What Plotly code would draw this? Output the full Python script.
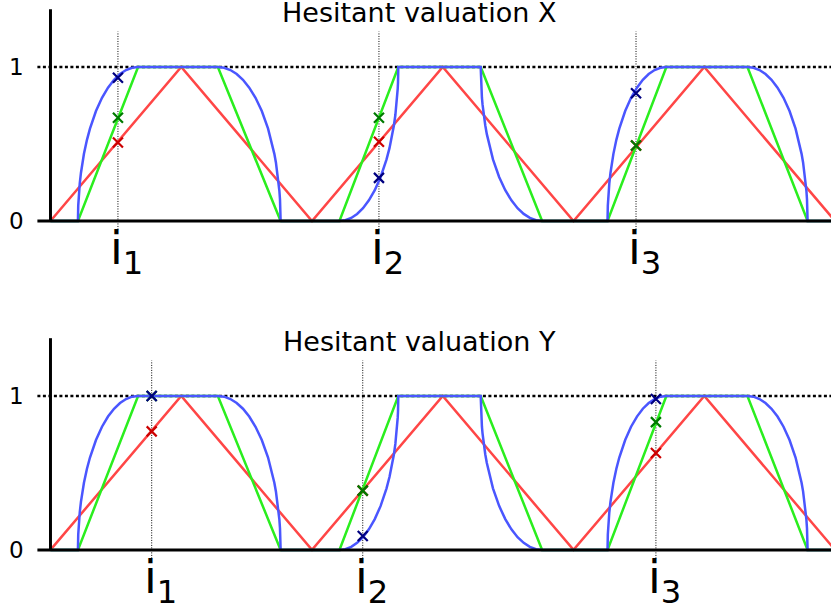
import plotly.graph_objects as go

# ---------------- data ----------------
# red triangular membership function
red_x = [0, 1, 2, 3, 4, 5, 6]
red_y = [0, 1, 0, 1, 0, 1, 0]

# green trapezoidal membership function
green_x = [0, 0.21, 0.67, 1.28, 1.76, 2.21, 2.66, 3.29, 3.76, 4.26, 4.71, 5.33, 5.79, 6]
green_y = [0, 0, 1, 1, 0, 0, 1, 1, 0, 0, 1, 1, 0, 0]

# blue curved membership function (three bumps)
blue_x1 = [0, 0.21, 0.2123, 0.2146, 0.2192, 0.2238, 0.233, 0.2445, 0.256, 0.279, 0.302, 0.348, 0.394,
           0.44, 0.486, 0.532, 0.578, 0.624, 0.67,
           1.28, 1.328, 1.376, 1.424, 1.472, 1.52, 1.568, 1.616, 1.664, 1.688, 1.712, 1.724, 1.736,
           1.7456, 1.7504, 1.7552, 1.7576, 1.76]
blue_y1 = [0, 0, 0.1, 0.141, 0.198, 0.243, 0.312, 0.38, 0.436, 0.527, 0.6, 0.714, 0.8,
           0.866, 0.917, 0.954, 0.98, 0.995, 1,
           1, 0.995, 0.98, 0.954, 0.917, 0.866, 0.8, 0.714, 0.6, 0.527, 0.436, 0.38, 0.312,
           0.243, 0.198, 0.141, 0.1, 0]
blue_x2 = [1.76, 2.21, 2.255, 2.30, 2.345, 2.39, 2.435, 2.48, 2.525, 2.57, 2.5925, 2.615, 2.6263,
           2.6375, 2.6465, 2.651, 2.6555, 2.6578, 2.66,
           3.29, 3.2924, 3.2947, 3.2994, 3.3041, 3.3135, 3.3253, 3.337, 3.3605, 3.384, 3.431, 3.478,
           3.525, 3.572, 3.619, 3.666, 3.713, 3.76]
blue_y2 = [0, 0, 0.005, 0.02, 0.046, 0.083, 0.134, 0.2, 0.286, 0.4, 0.473, 0.564, 0.62,
           0.688, 0.757, 0.802, 0.859, 0.9, 1,
           1, 0.9, 0.859, 0.802, 0.757, 0.688, 0.62, 0.564, 0.473, 0.4, 0.286, 0.2,
           0.134, 0.083, 0.046, 0.02, 0.005, 0]
blue_x3 = [3.76, 4.26, 4.2623, 4.2645, 4.269, 4.2735, 4.2825, 4.2938, 4.305, 4.3275, 4.35, 4.395, 4.44,
           4.485, 4.53, 4.575, 4.62, 4.665, 4.71,
           5.33, 5.376, 5.422, 5.468, 5.514, 5.56, 5.606, 5.652, 5.698, 5.721, 5.744, 5.7555, 5.767,
           5.7762, 5.7808, 5.7854, 5.7877, 5.79, 6]
blue_y3 = [0, 0, 0.1, 0.141, 0.198, 0.243, 0.312, 0.38, 0.436, 0.527, 0.6, 0.714, 0.8,
           0.866, 0.917, 0.954, 0.98, 0.995, 1,
           1, 0.995, 0.98, 0.954, 0.917, 0.866, 0.8, 0.714, 0.6, 0.527, 0.436, 0.38, 0.312,
           0.243, 0.198, 0.141, 0.1, 0, 0]

# panel titles
titles = ["Hesitant valuation X", "Hesitant valuation Y"]
# evaluation points i1, i2, i3 for each panel
i_pos = [[0.516, 2.512, 4.478], [0.774, 2.388, 4.63]]
i_labels = ["i<sub>1</sub>", "i<sub>2</sub>", "i<sub>3</sub>"]
# membership values at the evaluation points
red_mark = [[0.51, 0.515, 0.49], [0.77, 0.385, 0.63]]
green_mark = [[0.67, 0.67, 0.49], [1.0, 0.385, 0.83]]
blue_mark = [[0.93, 0.28, 0.83], [1.0, 0.09, 0.98]]
y_ticks = [0, 1]

# ---------------- styling ----------------
RED = "#ff4646"
GREEN = "#2aee1e"
BLUE = "#4a56ff"
M_RED = "#cc0000"
M_GREEN = "#007a00"
M_BLUE = "#000080"
FONT = "DejaVu Sans"

W, H = 831, 616
fig = go.Figure()

x_range = [-0.386, 5.969]
panels = [
    dict(xa="x", ya="y", dom=[308 / H, 1.0], yr=[-0.565, 1.435], title_y=1.0078),
    dict(xa="x2", ya="y2", dom=[0.0, 308 / H], yr=[-0.429, 1.571], title_y=0.4737),
]

shapes = []
annotations = []

for p, pan in enumerate(panels):
    xa, ya = pan["xa"], pan["ya"]
    fig.add_trace(go.Scatter(x=red_x, y=red_y, mode="lines", xaxis=xa, yaxis=ya,
                             line=dict(color=RED, width=2.5), showlegend=False, hoverinfo="skip"))
    fig.add_trace(go.Scatter(x=green_x, y=green_y, mode="lines", xaxis=xa, yaxis=ya,
                             line=dict(color=GREEN, width=2.5), showlegend=False, hoverinfo="skip"))
    for bx, by in ((blue_x1, blue_y1), (blue_x2, blue_y2), (blue_x3, blue_y3)):
        fig.add_trace(go.Scatter(x=bx, y=by, mode="lines", xaxis=xa, yaxis=ya,
                                 line=dict(color=BLUE, width=2.5),
                                 showlegend=False, hoverinfo="skip"))

    # y axis line
    shapes.append(dict(type="line", xref=xa, yref=ya, x0=0, x1=0, y0=0, y1=1.375,
                       line=dict(color="black", width=3), layer="above"))
    # baseline
    shapes.append(dict(type="line", xref=xa, yref=ya, x0=-0.1, x1=6.2, y0=0, y1=0,
                       line=dict(color="black", width=3), layer="above"))
    # dotted y=1 line
    shapes.append(dict(type="line", xref=xa, yref=ya, x0=-0.1, x1=6.2, y0=1, y1=1,
                       line=dict(color="black", width=2.5, dash="3px,2.5px"), layer="below"))
    # vertical dotted lines at i positions
    for xi in i_pos[p]:
        shapes.append(dict(type="line", xref=xa, yref=ya, x0=xi, x1=xi, y0=-0.055, y1=1.23,
                           line=dict(color="black", width=1, dash="1px,1.5px"), layer="below"))

    for vals, col in ((red_mark, M_RED), (green_mark, M_GREEN), (blue_mark, M_BLUE)):
        fig.add_trace(go.Scatter(x=i_pos[p], y=vals[p], mode="markers", xaxis=xa, yaxis=ya,
                                 marker=dict(symbol="x-thin", size=10, line=dict(color=col, width=2.2)),
                                 showlegend=False, hoverinfo="skip", cliponaxis=False))

    # title
    annotations.append(dict(text=titles[p], xref=xa, yref="paper", x=2.82, y=pan["title_y"],
                            xanchor="center", yanchor="top", showarrow=False,
                            font=dict(family=FONT, size=27, color="black")))
    # y tick labels
    for v in y_ticks:
        annotations.append(dict(text=str(v), xref=xa, yref=ya, x=-0.26, y=v,
                                xanchor="center", yanchor="middle", showarrow=False,
                                font=dict(family=FONT, size=23, color="black")))
    # i labels
    for xi, lab in zip(i_pos[p], i_labels):
        annotations.append(dict(text=lab, xref=xa, yref=ya, x=xi, y=0.013,
                                xanchor="left", yanchor="top", xshift=-10, showarrow=False,
                                font=dict(family=FONT, size=46, color="black")))

axis_common = dict(visible=False, showgrid=False, zeroline=False, fixedrange=True)
fig.update_layout(
    width=W, height=H,
    margin=dict(l=0, r=0, t=0, b=0),
    paper_bgcolor="white", plot_bgcolor="white",
    xaxis=dict(domain=[0, 1], range=x_range, anchor="y", **axis_common),
    yaxis=dict(domain=panels[0]["dom"], range=panels[0]["yr"], anchor="x", **axis_common),
    xaxis2=dict(domain=[0, 1], range=x_range, anchor="y2", **axis_common),
    yaxis2=dict(domain=panels[1]["dom"], range=panels[1]["yr"], anchor="x2", **axis_common),
    shapes=shapes,
    annotations=annotations,
    font=dict(family=FONT),
)

fig.write_html("out.html")
